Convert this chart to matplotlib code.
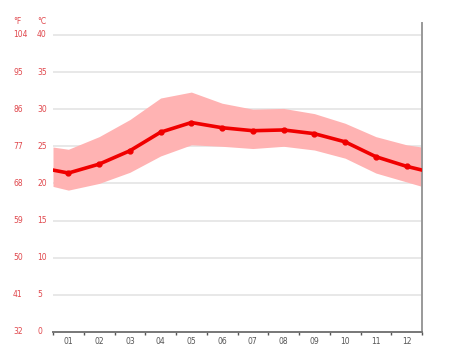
import matplotlib.pyplot as plt
import matplotlib.transforms as mtransforms

# monthly temperatures in °C
months = ["01", "02", "03", "04", "05", "06", "07", "08", "09", "10", "11", "12"]
temp_avg = [21.4, 22.6, 24.4, 26.9, 28.2, 27.5, 27.1, 27.2, 26.7, 25.6, 23.6, 22.3]
temp_max = [24.6, 26.3, 28.6, 31.5, 32.3, 30.8, 30.0, 30.1, 29.4, 28.1, 26.3, 25.2]
temp_min = [19.1, 20.0, 21.5, 23.7, 25.2, 25.0, 24.7, 25.0, 24.5, 23.4, 21.4, 20.2]
# values where the curves meet the left and right edges of the plot
edge_avg = 21.8
edge_max = 24.9
edge_min = 19.6

c_ticks = [0, 5, 10, 15, 20, 25, 30, 35, 40]
f_labels = ["32", "41", "50", "59", "68", "77", "86", "95", "104"]

W, H = 474, 355
fig = plt.figure(figsize=(W / 100, H / 100), dpi=100)
ax = fig.add_axes([53 / W, 1 - 332 / H, (422 - 53) / W, (332 - 23) / H])

x = [0] + [i + 0.5 for i in range(12)] + [12]
y_avg = [edge_avg] + temp_avg + [edge_avg]
y_max = [edge_max] + temp_max + [edge_max]
y_min = [edge_min] + temp_min + [edge_min]

# grid lines
for c in c_ticks[1:]:
    ax.axhline(c, color="#e2e2e2", lw=1.1, zorder=0)

ax.fill_between(x, y_min, y_max, color="#ffb3b3", lw=0, zorder=1)
ax.plot(x, y_avg, color="#f00000", lw=2.6, zorder=3, solid_joinstyle="round")
ax.plot(x[1:-1], temp_avg, "o", color="#f00000", ms=3.5, zorder=4)

ax.set_xlim(0, 12)
ax.set_ylim(0, 41.6)

for s in ["top", "left"]:
    ax.spines[s].set_visible(False)
ax.spines["right"].set_color("#999999")
ax.spines["right"].set_linewidth(1.4)
ax.spines["bottom"].set_color("#777777")
ax.spines["bottom"].set_linewidth(1.4)

ax.set_yticks([])
ax.set_xticks([i + 0.5 for i in range(12)])
ax.set_xticklabels(months, fontsize=5.5, color="#555555")
ax.tick_params(axis="x", which="major", length=0, pad=3.5)
ax.set_xticks(range(0, 13), minor=True)
ax.tick_params(axis="x", which="minor", length=2.5, width=1, color="#555555", direction="out")

# two columns of y labels: °F and °C
tr = mtransforms.blended_transform_factory(fig.transFigure, ax.transData)
for c, f in zip(c_ticks, f_labels):
    ax.text(13 / W, c, f, transform=tr, fontsize=5.5, color="#e0474c", va="center", ha="left", clip_on=False)
    ax.text(37 / W, c, str(c), transform=tr, fontsize=5.5, color="#e0474c", va="center", ha="left", clip_on=False)
fig.text(13 / W, 1 - 21 / H, "°F", fontsize=5.5, color="#e0474c", va="center", ha="left")
fig.text(37 / W, 1 - 21 / H, "°C", fontsize=5.5, color="#e0474c", va="center", ha="left")

fig.savefig("out.png", dpi=100)
